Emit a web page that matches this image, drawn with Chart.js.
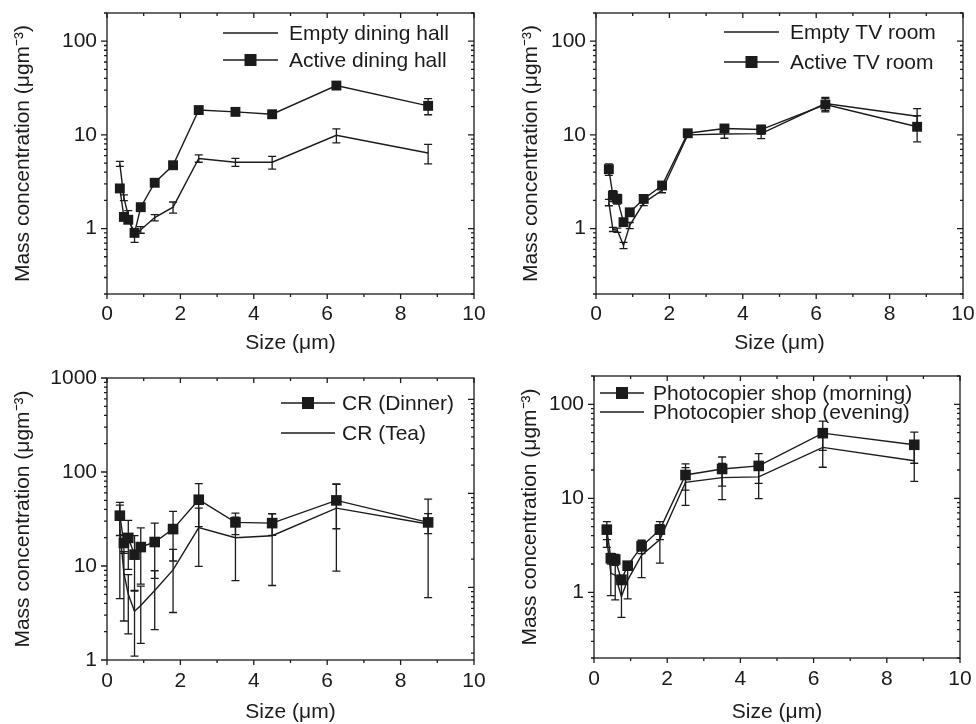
<!DOCTYPE html>
<html>
<head>
<meta charset="utf-8">
<script src="https://cdn.jsdelivr.net/npm/chart.js@4.4.0/dist/chart.umd.min.js"></script>
<style>
body { margin: 0; background: #fff; }
#root { position: relative; width: 976px; height: 724px; background: #fff; }
canvas { position: absolute; }
</style>
</head>
<body>
<div id="root">
  <canvas id="c1" width="488" height="358" style="left:0px;top:0px"></canvas>
  <canvas id="c2" width="488" height="358" style="left:488px;top:0px"></canvas>
  <canvas id="c3" width="488" height="366" style="left:0px;top:358px"></canvas>
  <canvas id="c4" width="488" height="366" style="left:488px;top:358px"></canvas>
</div>
<script>
// particle size bins (um)
var sizes = [0.35, 0.46, 0.58, 0.75, 0.92, 1.3, 1.8, 2.5, 3.5, 4.5, 6.25, 8.75];
var xTicks = [0, 2, 4, 6, 8, 10];
var yTicks = [1, 10, 100];
var yTicksCR = [1, 10, 100, 1000];

var emptyDining = [4.9, 2.14, 1.37, 0.83, 0.97, 1.31, 1.69, 5.6, 5.1, 5.1, 9.9, 6.4];
var emptyDiningErr = [0.3, 0.15, 0.18, 0.12, 0.08, 0.1, 0.23, 0.5, 0.5, 0.8, 1.7, 1.5];
var activeDining = [2.68, 1.33, 1.24, 0.9, 1.69, 3.08, 4.74, 18.4, 17.6, 16.6, 33.6, 20.4];
var activeDiningErr = [0.1, 0.06, 0.08, 0.08, 0.1, 0.15, 0.35, 0.8, 0.7, 1.3, 3, 4];

var emptyTV = [1.9, 0.98, 0.96, 0.66, 1.08, 1.88, 2.56, 10.0, 10.2, 10.3, 21.6, 15.8];
var emptyTVErr = [0.15, 0.05, 0.05, 0.05, 0.08, 0.12, 0.15, 0.5, 1.0, 1.2, 3.5, 3.3];
var activeTV = [4.3, 2.24, 2.07, 1.17, 1.49, 2.07, 2.88, 10.4, 11.7, 11.4, 21.1, 12.2];
var activeTVErr = [0.6, 0.3, 0.25, 0.1, 0.12, 0.15, 0.2, 0.6, 0.8, 1.2, 3.5, 3.8];

var crDinner = [34.3, 17.6, 19.9, 13.2, 15.9, 18, 24.7, 50.7, 29.1, 28.6, 49.9, 29.1];
var crDinnerErr = [13.2, 4, 10.7, 7.8, 9.5, 10.6, 13.4, 24.5, 7.5, 7.4, 25, 7];
var crTea = [24.5, 8.4, 5.0, 3.3, 3.8, 5.5, 9.1, 25.6, 20, 21, 41.3, 28];
var crTeaErr = [20, 5.8, 3.1, 2.2, 2.3, 3.4, 5.9, 15.7, 13, 14.8, 32.5, 23.4];

var shopMorning = [4.64, 2.3, 2.23, 1.36, 1.92, 3.08, 4.64, 17.7, 20.5, 22.1, 49.3, 37.1];
var shopMorningErr = [1.0, 0.3, 0.3, 0.15, 0.2, 0.5, 1.0, 5.5, 7, 7.7, 17, 13.5];
var shopEvening = [3.7, 1.59, 1.52, 0.9, 1.35, 2.48, 3.64, 14.8, 16.6, 16.9, 34.8, 25.1];
var shopEveningErr = [0.7, 0.67, 0.69, 0.36, 0.5, 1.05, 1.6, 6.4, 6.9, 7, 13.4, 10];

var ink = '#1b1b1b';
var fontFamily = '"Liberation Sans", Arial, Helvetica, sans-serif';
Chart.defaults.font.family = fontFamily;
Chart.defaults.font.size = 21;
Chart.defaults.color = ink;

function points(ys) {
    return sizes.map(function(x, i) { return {x: x, y: ys[i]}; });
}

function logTicks(scale) {
    var out = [];
    var e0 = Math.floor(Math.log10(scale.min)), e1 = Math.ceil(Math.log10(scale.max));
    for (var e = e0; e <= e1; e++) {
        for (var m = 1; m <= 9; m++) {
            var v = m * Math.pow(10, e);
            if (v >= scale.min * 0.999 && v <= scale.max * 1.001) out.push({v: v, major: m === 1});
        }
    }
    return out;
}

// box + tick marks on all four sides
var framePlugin = {
    id: 'frame',
    afterDraw: function(chart, args, opts) {
        var ctx = chart.ctx, a = chart.chartArea;
        var xs = chart.scales.x, ys = chart.scales.y, yr = chart.scales[opts.right || 'y'];
        ctx.save();
        ctx.strokeStyle = ink;
        ctx.lineWidth = 1.3;
        ctx.strokeRect(a.left, a.top, a.right - a.left, a.bottom - a.top);
        ctx.beginPath();
        for (var v = 0; v <= 10; v++) {
            var px = xs.getPixelForValue(v);
            var len = v % 2 === 0 ? 5 : 3;
            ctx.moveTo(px, a.bottom); ctx.lineTo(px, a.bottom + len);
            ctx.moveTo(px, a.top); ctx.lineTo(px, a.top + len);
        }
        logTicks(ys).forEach(function(t) {
            var py = ys.getPixelForValue(t.v);
            ctx.moveTo(a.left, py); ctx.lineTo(a.left - (t.major ? 6 : 3), py);
        });
        logTicks(yr).forEach(function(t) {
            var py = yr.getPixelForValue(t.v);
            ctx.moveTo(a.right, py); ctx.lineTo(a.right - (t.major ? 6 : 3), py);
        });
        ctx.stroke();
        ctx.restore();
    }
};

var errorBarPlugin = {
    id: 'errorBars',
    afterDatasetsDraw: function(chart) {
        var ctx = chart.ctx, xs = chart.scales.x, ys = chart.scales.y;
        ctx.save();
        ctx.strokeStyle = ink;
        ctx.lineWidth = 1.3;
        chart.data.datasets.forEach(function(ds) {
            ds.data.forEach(function(p, i) {
                var e = ds.errors[i];
                var px = xs.getPixelForValue(p.x);
                var top = ys.getPixelForValue(p.y + e);
                var bot = ys.getPixelForValue(Math.max(p.y - e, ys.min));
                ctx.beginPath();
                ctx.moveTo(px, top); ctx.lineTo(px, bot);
                ctx.moveTo(px - 4, top); ctx.lineTo(px + 4, top);
                ctx.moveTo(px - 4, bot); ctx.lineTo(px + 4, bot);
                ctx.stroke();
            });
        });
        ctx.restore();
    }
};

var keyPlugin = {
    id: 'key',
    afterDraw: function(chart, args, o) {
        var ctx = chart.ctx;
        ctx.save();
        ctx.font = '21px ' + fontFamily;
        ctx.textBaseline = 'middle';
        ctx.fillStyle = ink;
        ctx.strokeStyle = ink;
        ctx.lineWidth = 1.3;
        chart.data.datasets.forEach(function(ds, i) {
            var y = o.rows[i];
            ctx.beginPath(); ctx.moveTo(o.x1, y); ctx.lineTo(o.x2, y); ctx.stroke();
            if (ds.pointRadius > 0) {
                ctx.fillRect((o.x1 + o.x2) / 2 - o.box / 2, y - o.box / 2, o.box, o.box);
            }
            ctx.fillText(ds.label, o.textX, y + 1);
        });
        ctx.restore();
    }
};

function series(label, ys, errs, marker) {
    return {
        label: label,
        data: points(ys),
        errors: errs,
        borderColor: ink,
        borderWidth: 1.4,
        backgroundColor: ink,
        pointStyle: 'rect',
        pointRadius: marker || 0,
        pointBorderWidth: 0,
        tension: 0
    };
}

function makePanel(id, datasets, cfg) {
    var canvas = document.getElementById(id);
    var W = canvas.width, H = canvas.height, box = cfg.box;
    var scales = {
        x: {
            type: 'linear', min: 0, max: 10,
            grid: {display: false, drawTicks: false}, border: {display: false},
            afterBuildTicks: function(s) { s.ticks = xTicks.map(function(v) { return {value: v}; }); },
            afterFit: function(s) {
                s.height = H - box.bottom;
                s.paddingLeft = 0; s.paddingRight = 0;
            },
            ticks: {padding: cfg.xLabelPad, maxRotation: 0, callback: function(v) { return String(v); }},
            title: {display: true, text: 'Size (\u03bcm)', padding: {top: 0, bottom: cfg.xTitlePad}, font: {size: 21, lineHeight: 1.1}}
        },
        y: {
            type: 'logarithmic', min: cfg.yMin, max: cfg.yMax,
            grid: {display: false, drawTicks: false}, border: {display: false},
            afterBuildTicks: function(s) { s.ticks = cfg.yMajor.map(function(v) { return {value: v}; }); },
            afterFit: function(s) {
                s.width = box.left;
                s.paddingTop = 0; s.paddingBottom = 0;
            },
            ticks: {padding: 10, callback: function(v) { return String(v); }},
            title: {display: true, text: 'Mass concentration (\u03bcgm\u207b\u00b3)', padding: {top: cfg.yTitlePad, bottom: 0}, font: {size: 21, lineHeight: 1.2}}
        }
    };
    if (cfg.right) {
        // right-hand axis of the CR panel sits a little lower than the left one
        scales.y2 = {type: 'logarithmic', position: 'right', display: false, min: cfg.right[0], max: cfg.right[1]};
    }
    return new Chart(canvas, {
        type: 'line',
        data: {datasets: datasets},
        options: {
            responsive: false,
            animation: false,
            devicePixelRatio: 1,
            layout: {autoPadding: false, padding: {top: box.top, right: W - box.right, left: 0, bottom: 0}},
            scales: scales,
            plugins: {
                legend: {display: false},
                tooltip: {enabled: false},
                frame: {right: cfg.right ? 'y2' : 'y'},
                key: cfg.key
            }
        },
        plugins: [errorBarPlugin, framePlugin, keyPlugin]
    });
}

makePanel('c1', [
    series('Empty dining hall', emptyDining, emptyDiningErr, 0),
    series('Active dining hall', activeDining, activeDiningErr, 7)
], {
    box: {left: 107, top: 13, right: 474, bottom: 294},
    yMin: 0.2, yMax: 200, yMajor: yTicks,
    yTitlePad: 11, xTitlePad: 3, xLabelPad: 8,
    key: {x1: 223, x2: 278, textX: 289, rows: [33, 60], box: 12}
});

makePanel('c2', [
    series('Empty TV room', emptyTV, emptyTVErr, 0),
    series('Active TV room', activeTV, activeTVErr, 7)
], {
    box: {left: 108, top: 13, right: 475, bottom: 294},
    yMin: 0.2, yMax: 200, yMajor: yTicks,
    yTitlePad: 31, xTitlePad: 3, xLabelPad: 8,
    key: {x1: 236, x2: 291, textX: 302, rows: [32, 62], box: 12}
});

makePanel('c3', [
    series('CR (Dinner)', crDinner, crDinnerErr, 7.5),
    series('CR (Tea)', crTea, crTeaErr, 0)
], {
    box: {left: 107, top: 20, right: 474, bottom: 302},
    yMin: 1, yMax: 1000, yMajor: yTicksCR, right: [1.69, 1690],
    yTitlePad: 11, xTitlePad: 0, xLabelPad: 9,
    key: {x1: 281, x2: 335, textX: 342, rows: [45, 75], box: 12}
});

makePanel('c4', [
    series('Photocopier shop (morning)', shopMorning, shopMorningErr, 7.5),
    series('Photocopier shop (evening)', shopEvening, shopEveningErr, 0)
], {
    box: {left: 106, top: 18, right: 472, bottom: 300},
    yMin: 0.2, yMax: 200, yMajor: yTicks,
    yTitlePad: 30, xTitlePad: 0, xLabelPad: 9,
    key: {x1: 112, x2: 156, textX: 165, rows: [35, 54], box: 12}
});
</script>
</body>
</html>
